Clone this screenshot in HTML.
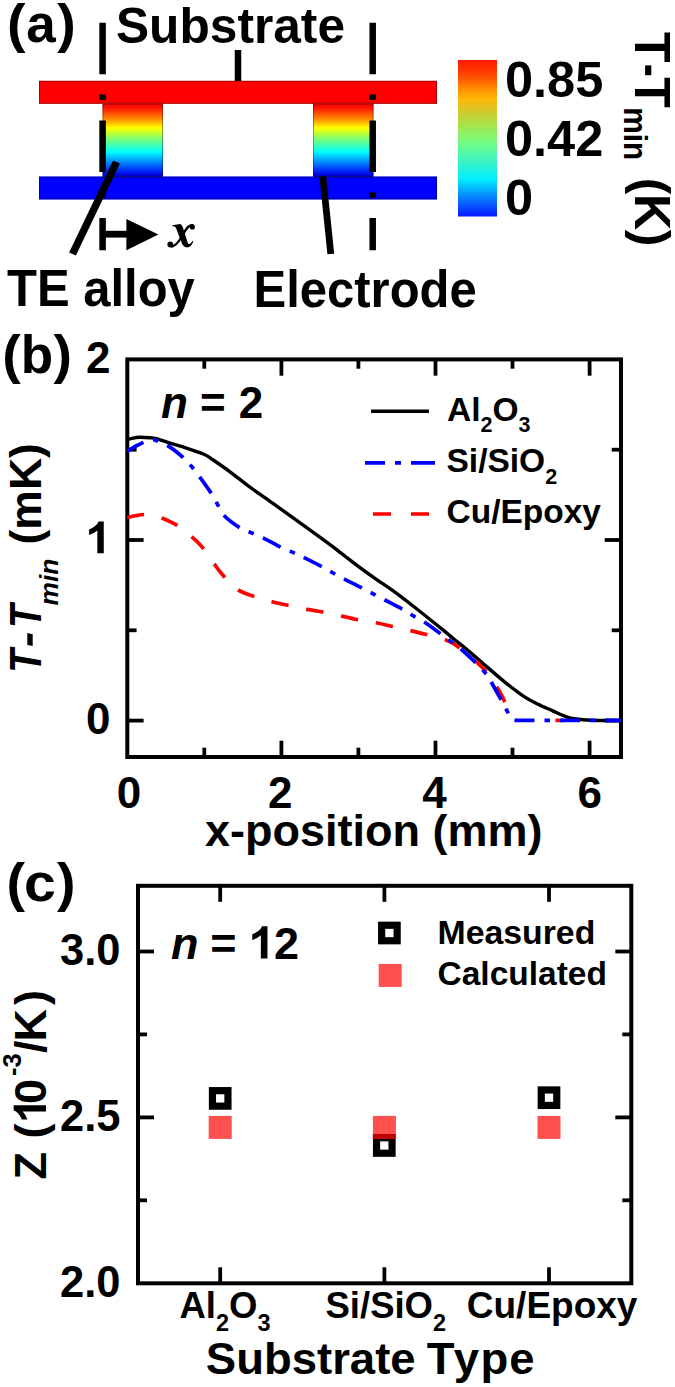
<!DOCTYPE html>
<html><head><meta charset="utf-8">
<style>
html,body{margin:0;padding:0;background:#fff;}
body{width:675px;height:1387px;overflow:hidden;font-family:"Liberation Sans",sans-serif;}
svg{display:block;}
text{font-family:"Liberation Sans",sans-serif;font-weight:bold;fill:#000;}
.ser{font-family:"Liberation Serif",serif;}
.i{font-style:italic;}
</style></head><body>
<svg width="675" height="1387" viewBox="0 0 675 1387">
<defs>
<linearGradient id="jet" x1="0" y1="0" x2="0" y2="1">
<stop offset="0" stop-color="#e80000"/>
<stop offset="0.05" stop-color="#ff1000"/>
<stop offset="0.19" stop-color="#ff7800"/>
<stop offset="0.335" stop-color="#ffff00"/>
<stop offset="0.5" stop-color="#70ff80"/>
<stop offset="0.66" stop-color="#00ffff"/>
<stop offset="0.83" stop-color="#0070ff"/>
<stop offset="0.95" stop-color="#0010f0"/>
<stop offset="1" stop-color="#0000b0"/>
</linearGradient>
<linearGradient id="cbar" x1="0" y1="0" x2="0" y2="1">
<stop offset="0" stop-color="#ff1800"/>
<stop offset="0.1" stop-color="#ff4a00"/>
<stop offset="0.18" stop-color="#ff8a00"/>
<stop offset="0.25" stop-color="#ffb808"/>
<stop offset="0.34" stop-color="#cccc30"/>
<stop offset="0.43" stop-color="#a0e850"/>
<stop offset="0.52" stop-color="#78fc80"/>
<stop offset="0.64" stop-color="#40f4c0"/>
<stop offset="0.76" stop-color="#00f0ff"/>
<stop offset="0.88" stop-color="#0880ff"/>
<stop offset="1" stop-color="#0818ff"/>
</linearGradient>
</defs>
<rect width="675" height="1387" fill="#fff"/>

<g id="pa">
<text transform="translate(7.1,41.8) scale(1.05,1.025)" font-size="53">(</text><text transform="translate(26.2,41.8) scale(1.0,1)" font-size="53">a</text><text transform="translate(57.3,41.8) scale(1.05,1.025)" font-size="53">)</text>
<text transform="translate(116,42.500) scale(1,1.03)" font-size="49" textLength="229" lengthAdjust="spacingAndGlyphs">Substrate</text>
<rect x="39" y="80.800" width="398" height="23" fill="#ff0000"/>
<rect x="39.500" y="81.300" width="397" height="22" fill="none" stroke="#000" stroke-opacity="0.35" stroke-width="1"/>
<rect x="39" y="176.500" width="398" height="23" fill="#0000ff"/>
<rect x="39.500" y="177" width="397" height="22" fill="none" stroke="#000" stroke-opacity="0.35" stroke-width="1"/>
<rect x="102.5" y="103.500" width="60.500" height="73.300" fill="url(#jet)"/>
<rect x="103.0" y="104" width="59.500" height="72.500" fill="none" stroke="#000" stroke-opacity="0.35" stroke-width="1"/>
<rect x="313" y="103.500" width="60.500" height="73.300" fill="url(#jet)"/>
<rect x="313.5" y="104" width="59.500" height="72.500" fill="none" stroke="#000" stroke-opacity="0.35" stroke-width="1"/>
<line x1="102.6" y1="22.700" x2="102.6" y2="250.200" stroke="#000" stroke-width="6.500" stroke-dasharray="51.500 20.300 5.500 20.400"/>
<line x1="372.7" y1="22.700" x2="372.7" y2="250.200" stroke="#000" stroke-width="6.500" stroke-dasharray="51.500 20.300 5.500 20.400"/>
<line x1="238" y1="50" x2="238" y2="81" stroke="#000" stroke-width="6.500"/>
<line x1="116.500" y1="162" x2="72.500" y2="254" stroke="#000" stroke-width="7.500"/>
<line x1="322.800" y1="176.500" x2="330.800" y2="254" stroke="#000" stroke-width="6.800"/>
<line x1="104" y1="234.200" x2="130" y2="234.200" stroke="#000" stroke-width="6.800"/>
<polygon points="126.400,218.900 158.400,234.600 126.400,250.300" fill="#000"/>
<g id="xg"><path d="M172.300,225.300 L180.300,224.100 C182.200,225.300 182.900,227.200 183.400,228.900 L187.100,240.800 C187.600,242.800 188.300,244.200 189.200,244 C190.400,243.700 191.500,242.400 192.300,240.900 L193.300,241.500 C192.100,244.700 190,247.500 187,247.500 C184.200,247.500 182.700,245.600 181.500,242.600 L176.300,228.700 C175.600,227 174.900,226.200 173.500,226.200 L172.300,226.200 Z" fill="#000"/><path d="M192.500,225.200 C188.500,224.600 186,229 183,234.500 C180,240 176.500,245.600 172,246.600" fill="none" stroke="#000" stroke-width="2.300" stroke-linecap="round"/><circle cx="192.300" cy="226.900" r="2.600"/><circle cx="170.300" cy="244.500" r="2.900"/></g>
<text transform="translate(7,306) scale(1,1.055)" font-size="49">TE alloy</text>
<text transform="translate(253.500,306.800) scale(1,1.04)" font-size="49">Electrode</text>
<rect x="458" y="60" width="39" height="156.500" fill="url(#cbar)"/>
<text x="505" y="97" font-size="50.500">0.85</text>
<text x="505" y="155.800" font-size="50.500">0.42</text>
<text x="505" y="214.800" font-size="50.500">0</text>
<g transform="translate(635.200,32) rotate(90)"><text x="0" y="0" font-size="50">T</text><rect x="33.400" y="-16.100" width="9.800" height="6.200"/><text x="45.300" y="0" font-size="50">T</text><text x="75.300" y="11" font-size="34" textLength="53" lengthAdjust="spacingAndGlyphs">min</text><text x="145.800" y="0" font-size="50" textLength="68.500" lengthAdjust="spacing">(K)</text></g>
</g>
<g id="pb">
<text transform="translate(2.2,373) scale(1.05,1.025)" font-size="53">(</text><text transform="translate(20.8,373) scale(1.0,1)" font-size="53">b</text><text transform="translate(53.4,373) scale(1.05,1.025)" font-size="53">)</text>
<rect x="127.3" y="359.4" width="493.7" height="397.6" fill="none" stroke="#000" stroke-width="4"/>
<g stroke="#000" stroke-width="3.800" stroke-linecap="butt">
<line x1="127.3" y1="720.6" x2="143.6" y2="720.6"/><line x1="621" y1="720.6" x2="604.7" y2="720.6"/>
<line x1="127.3" y1="630.3" x2="136.6" y2="630.3"/><line x1="621" y1="630.3" x2="611.7" y2="630.3"/>
<line x1="127.3" y1="540.0" x2="143.6" y2="540.0"/><line x1="621" y1="540.0" x2="604.7" y2="540.0"/>
<line x1="127.3" y1="449.7" x2="136.6" y2="449.7"/><line x1="621" y1="449.7" x2="611.7" y2="449.7"/>
<line x1="204.3" y1="757" x2="204.3" y2="747.7"/><line x1="204.3" y1="359.4" x2="204.3" y2="368.7"/>
<line x1="281.4" y1="757" x2="281.4" y2="740.7"/><line x1="281.4" y1="359.4" x2="281.4" y2="375.7"/>
<line x1="358.4" y1="757" x2="358.4" y2="747.7"/><line x1="358.4" y1="359.4" x2="358.4" y2="368.7"/>
<line x1="435.5" y1="757" x2="435.5" y2="740.7"/><line x1="435.5" y1="359.4" x2="435.5" y2="375.7"/>
<line x1="512.5" y1="757" x2="512.5" y2="747.7"/><line x1="512.5" y1="359.4" x2="512.5" y2="368.7"/>
<line x1="589.6" y1="757" x2="589.6" y2="740.7"/><line x1="589.6" y1="359.4" x2="589.6" y2="375.7"/>
</g>
<text x="110.500" y="372.6" font-size="44" text-anchor="end">2</text>
<text x="110.500" y="733.8" font-size="44" text-anchor="end">0</text>
<path d="M806 0H525V1059Q371 915 162 846V1101Q272 1137 401 1237.500Q530 1338 578 1472H806Z" transform="translate(85.40,553.20) scale(0.02277,-0.02148)" fill="#000" />
<text x="129.0" y="807.900" font-size="44" text-anchor="middle">0</text>
<text x="280.3" y="807.900" font-size="44" text-anchor="middle">2</text>
<text x="434.4" y="807.900" font-size="44" text-anchor="middle">4</text>
<text x="589.7" y="807.900" font-size="44" text-anchor="middle">6</text>
<text x="205" y="846" font-size="45">x-position (mm)</text>
<g transform="translate(41,670.300) rotate(-90)"><text class="i" transform="translate(-2.400,0) scale(0.87,1)" font-size="44.500">T</text><rect x="22.500" y="-13.700" width="11.800" height="5.400" transform="skewX(-12)"/><text class="i" transform="translate(42.200,0) scale(0.87,1)" font-size="44.500">T</text><text class="i" x="64.800" y="16.500" font-size="26.400">min</text><text x="125.800" y="0" font-size="44.500">(mK)</text></g>
<text class="i" x="161" y="418.100" font-size="44">n</text><text x="200" y="418.100" font-size="44">=</text><text x="238.800" y="418.100" font-size="44">2</text>
<path d="M127.3,439.8 C128.1,439.6 129.9,438.7 132.0,438.3 C134.1,437.9 137.0,437.4 140.0,437.3 C143.0,437.2 147.4,437.6 150.0,437.8 C152.6,438.0 152.3,437.6 155.3,438.4 C158.3,439.2 162.8,440.8 167.8,442.4 C172.9,444.0 179.7,445.9 185.6,447.8 C191.5,449.7 198.9,452.1 203.3,454.0 C207.7,455.9 207.8,456.3 212.2,459.3 C216.6,462.3 223.8,467.2 230.0,471.8 C236.2,476.4 242.9,482.0 249.6,486.9 C256.3,491.8 263.3,496.5 270.0,501.3 C276.7,506.1 280.7,509.0 290.0,515.7 C299.3,522.4 317.7,535.5 326.0,541.6 C334.3,547.7 334.3,548.0 340.0,552.3 C345.7,556.6 353.7,562.9 360.0,567.6 C366.3,572.3 372.3,576.5 377.8,580.3 C383.3,584.1 386.6,586.0 392.9,590.6 C399.2,595.2 407.6,601.7 415.6,608.0 C423.6,614.3 434.2,622.9 440.8,628.2 C447.4,633.5 450.8,636.6 455.0,640.0 C459.2,643.4 461.8,645.3 466.0,648.8 C470.2,652.3 474.0,655.7 480.2,661.0 C486.4,666.3 495.9,674.8 503.0,680.6 C510.1,686.4 517.1,691.8 523.0,695.8 C528.9,699.8 533.1,701.8 538.1,704.3 C543.1,706.8 548.6,709.0 553.2,711.1 C557.8,713.2 562.0,715.3 565.8,716.6 C569.6,717.9 571.7,718.4 575.9,719.0 C580.1,719.6 583.5,720.0 591.0,720.3 C598.5,720.6 616.0,720.5 621.0,720.6" fill="none" stroke="#000" stroke-width="3.400" stroke-linejoin="round"/>
<path d="M127.3,517.6 C128.6,517.3 132.2,516.3 135.0,515.8 C137.8,515.3 141.1,514.6 143.9,514.5 C146.7,514.4 149.1,514.3 152.0,514.9 C154.9,515.5 157.5,516.3 161.6,518.0 C165.7,519.7 172.0,522.3 176.7,525.1 C181.3,527.9 185.3,531.4 189.5,534.9 C193.7,538.4 197.7,541.8 201.6,546.4 C205.5,551.0 209.6,557.6 213.2,562.5 C216.8,567.4 219.2,571.1 223.2,575.6 C227.2,580.1 232.0,585.8 237.4,589.4 C242.8,593.0 249.6,594.9 255.5,597.0 C261.4,599.1 267.3,600.5 273.1,602.0 C278.9,603.5 284.6,604.6 290.3,605.8 C296.0,607.0 301.4,608.3 307.1,609.4 C312.9,610.5 318.8,611.2 324.8,612.4 C330.8,613.6 337.2,615.1 343.1,616.4 C349.0,617.7 354.3,619.1 360.0,620.2 C365.7,621.3 371.7,621.9 377.3,623.0 C382.9,624.1 387.6,625.4 393.4,626.7 C399.1,628.0 405.8,629.5 411.8,630.9 C417.8,632.3 423.3,633.7 429.4,635.4 C435.5,637.1 443.5,639.1 448.3,641.0 C453.1,642.9 453.6,643.4 458.4,647.0 C463.2,650.6 472.4,658.1 477.3,662.6 C482.2,667.1 484.4,669.4 488.0,674.0 C491.6,678.6 495.9,685.2 499.0,690.5 C502.1,695.8 505.3,703.1 506.6,705.6 L511.5,718" fill="none" stroke="#ff0000" stroke-width="3.700" stroke-dasharray="17.5 18" stroke-dashoffset="0.4" stroke-linejoin="round"/>
<line x1="555.500" y1="720.400" x2="563" y2="720.400" stroke="#ff0000" stroke-width="3.700"/>
<path d="M127.3,451.2 C128.8,450.3 133.0,447.6 136.0,446.0 C139.0,444.4 142.5,442.7 145.2,441.6 C147.9,440.6 149.9,439.8 152.0,439.7 C154.1,439.6 155.1,440.0 158.0,441.2 C160.9,442.4 165.3,444.1 169.6,446.9 C173.9,449.7 180.1,454.8 183.8,458.1 C187.5,461.4 189.2,463.7 191.8,466.8 C194.4,469.9 196.2,472.3 199.4,476.6 C202.6,480.9 207.8,488.1 210.8,492.6 C213.8,497.1 215.0,500.0 217.2,503.8 C219.4,507.6 220.0,511.3 223.8,515.3 C227.6,519.3 235.2,524.9 239.8,527.8 C244.4,530.7 247.4,531.1 251.3,532.8 C255.2,534.5 258.1,535.4 263.0,537.8 C267.9,540.2 275.6,544.7 280.7,547.2 C285.8,549.7 289.3,550.8 293.3,552.6 C297.3,554.4 299.8,555.5 304.6,557.9 C309.4,560.3 317.5,564.3 322.2,566.8 C326.9,569.3 329.2,570.9 333.0,573.0 C336.8,575.1 340.2,576.9 344.9,579.3 C349.6,581.7 356.8,585.2 361.4,587.6 C366.0,590.0 368.8,591.5 372.7,593.6 C376.6,595.7 380.0,597.5 384.8,600.0 C389.6,602.5 397.1,606.2 401.7,608.8 C406.3,611.4 408.7,613.2 412.5,615.4 C416.3,617.6 419.9,619.1 424.4,622.0 C428.9,624.9 435.2,629.9 439.5,633.0 C443.8,636.1 446.5,638.1 450.1,640.8 C453.7,643.5 456.6,645.3 460.9,649.0 C465.2,652.7 471.9,659.0 476.0,663.0 C480.1,667.0 482.8,669.9 485.2,672.8 C487.6,675.7 487.4,675.4 490.3,680.4 C493.2,685.4 500.0,697.8 502.9,703.0 C505.8,708.2 506.6,710.1 507.4,711.5 L511.8,719.8 L516,720.4 L621,720.4" fill="none" stroke="#0000ff" stroke-width="3.700" stroke-dasharray="20 10 5.5 10" stroke-dashoffset="1.7" stroke-linejoin="round"/>
<line x1="371" y1="411.300" x2="429" y2="411.300" stroke="#000" stroke-width="3.400"/>
<line x1="365" y1="462.800" x2="435" y2="462.800" stroke="#0000ff" stroke-width="3.700" stroke-dasharray="20 10 6 10 24 10"/>
<line x1="373" y1="514" x2="429" y2="514" stroke="#ff0000" stroke-width="3.700" stroke-dasharray="18 20"/>
<text x="447" y="420.800" font-size="33.500">Al<tspan font-size="21.500" dy="11.500">2</tspan><tspan font-size="33.500" dy="-11.500">O</tspan><tspan font-size="21.500" dy="11.500">3</tspan></text>
<text x="446.500" y="472" font-size="33.500">Si/SiO<tspan font-size="21.500" dy="11.500">2</tspan></text>
<text x="446.500" y="523.300" font-size="33.500">Cu/Epoxy</text>
</g>
<g id="pc">
<text transform="translate(6.5,900.8) scale(1.05,1.025)" font-size="53">(</text><text transform="translate(24.1,900.8) scale(1.08,1)" font-size="53">c</text><text transform="translate(56.9,900.8) scale(1.05,1.025)" font-size="53">)</text>
<rect x="138" y="885.8" width="493.3" height="397.5" fill="none" stroke="#000" stroke-width="4"/>
<g stroke="#000" stroke-width="3.800">
<line x1="138" y1="951.5" x2="154" y2="951.5"/><line x1="631.3" y1="951.5" x2="615.3" y2="951.5"/>
<line x1="138" y1="1034.4" x2="147" y2="1034.4"/><line x1="631.3" y1="1034.4" x2="622.3" y2="1034.4"/>
<line x1="138" y1="1117.4" x2="154" y2="1117.4"/><line x1="631.3" y1="1117.4" x2="615.3" y2="1117.4"/>
<line x1="138" y1="1200.3" x2="147" y2="1200.3"/><line x1="631.3" y1="1200.3" x2="622.3" y2="1200.3"/>
<line x1="220.2" y1="1283.3" x2="220.2" y2="1267.3"/><line x1="220.2" y1="885.8" x2="220.2" y2="901.8"/>
<line x1="384.4" y1="1283.3" x2="384.4" y2="1267.3"/><line x1="384.4" y1="885.8" x2="384.4" y2="901.8"/>
<line x1="549" y1="1283.3" x2="549" y2="1267.3"/><line x1="549" y1="885.8" x2="549" y2="901.8"/>
</g>
<text x="120.500" y="965.0" font-size="43.500" text-anchor="end">3.0</text>
<text x="120.500" y="1130.9" font-size="43.500" text-anchor="end">2.5</text>
<text x="120.500" y="1296.8" font-size="43.500" text-anchor="end">2.0</text>
<text class="i" x="171" y="958.500" font-size="45">n</text><text x="210.300" y="958.500" font-size="45">=</text><text x="274" y="958.500" font-size="45">2</text>
<path d="M806 0H525V1059Q371 915 162 846V1101Q272 1137 401 1237.500Q530 1338 578 1472H806Z" transform="translate(248.50,958.50) scale(0.02351,-0.02197)" fill="#000" />
<rect x="212.45" y="1090.65" width="15.50" height="15.50" fill="#fff" stroke="#000" stroke-width="7.2"/>
<rect x="376.55" y="1137.75" width="15.50" height="15.50" fill="#fff" stroke="#000" stroke-width="7.2"/>
<rect x="541.25" y="1089.95" width="15.50" height="15.50" fill="#fff" stroke="#000" stroke-width="7.2"/>
<rect x="381.65" y="925.25" width="15.50" height="15.50" fill="#fff" stroke="#000" stroke-width="7.2"/>
<rect x="208.70" y="1115.90" width="23" height="23" fill="#ff5050"/>
<rect x="372.90" y="1115.90" width="23" height="23" fill="#ff5050"/>
<rect x="537.50" y="1115.90" width="23" height="23" fill="#ff5050"/>
<rect x="378.70" y="963.90" width="23" height="23" fill="#ff5050"/>
<rect x="372.900" y="1134" width="23" height="4.900" fill="#c00000"/>
<text x="437.500" y="943.800" font-size="33.800">Measured</text>
<text x="437.500" y="984.500" font-size="33.500">Calculated</text>
<text x="179.500" y="1317.900" font-size="36.500">Al<tspan font-size="23.500" dy="13">2</tspan><tspan font-size="36.500" dy="-13">O</tspan><tspan font-size="23.500" dy="13">3</tspan></text>
<text x="325.500" y="1317.900" font-size="36.500">Si/SiO<tspan font-size="23.500" dy="13">2</tspan></text>
<text x="466.800" y="1317.500" font-size="37">Cu/Epoxy</text>
<text transform="translate(205.800,1373.800) scale(1,0.965)" font-size="45.500">Substrate <tspan dx="-1.400">T</tspan><tspan dx="-0.800">y</tspan><tspan dx="1.300">p</tspan><tspan dx="0.900">e</tspan></text>
<g transform="translate(46,1179.500) rotate(-90)"><text x="0" y="0" font-size="45">Z</text><text x="41" y="0" font-size="45">(</text><text x="75.500" y="0" font-size="45">0</text><path d="M806 0H525V1059Q371 915 162 846V1101Q272 1137 401 1237.500Q530 1338 578 1472H806Z" transform="translate(56.50,0.00) scale(0.02197,-0.02197)" fill="#000" /><text x="103.500" y="-25.400" font-size="25.500">-3</text><text x="126.500" y="0" font-size="45">/</text><text x="138" y="0" font-size="45">K</text><text x="174.500" y="0" font-size="45">)</text></g>
</g>
</svg>
</body></html>
